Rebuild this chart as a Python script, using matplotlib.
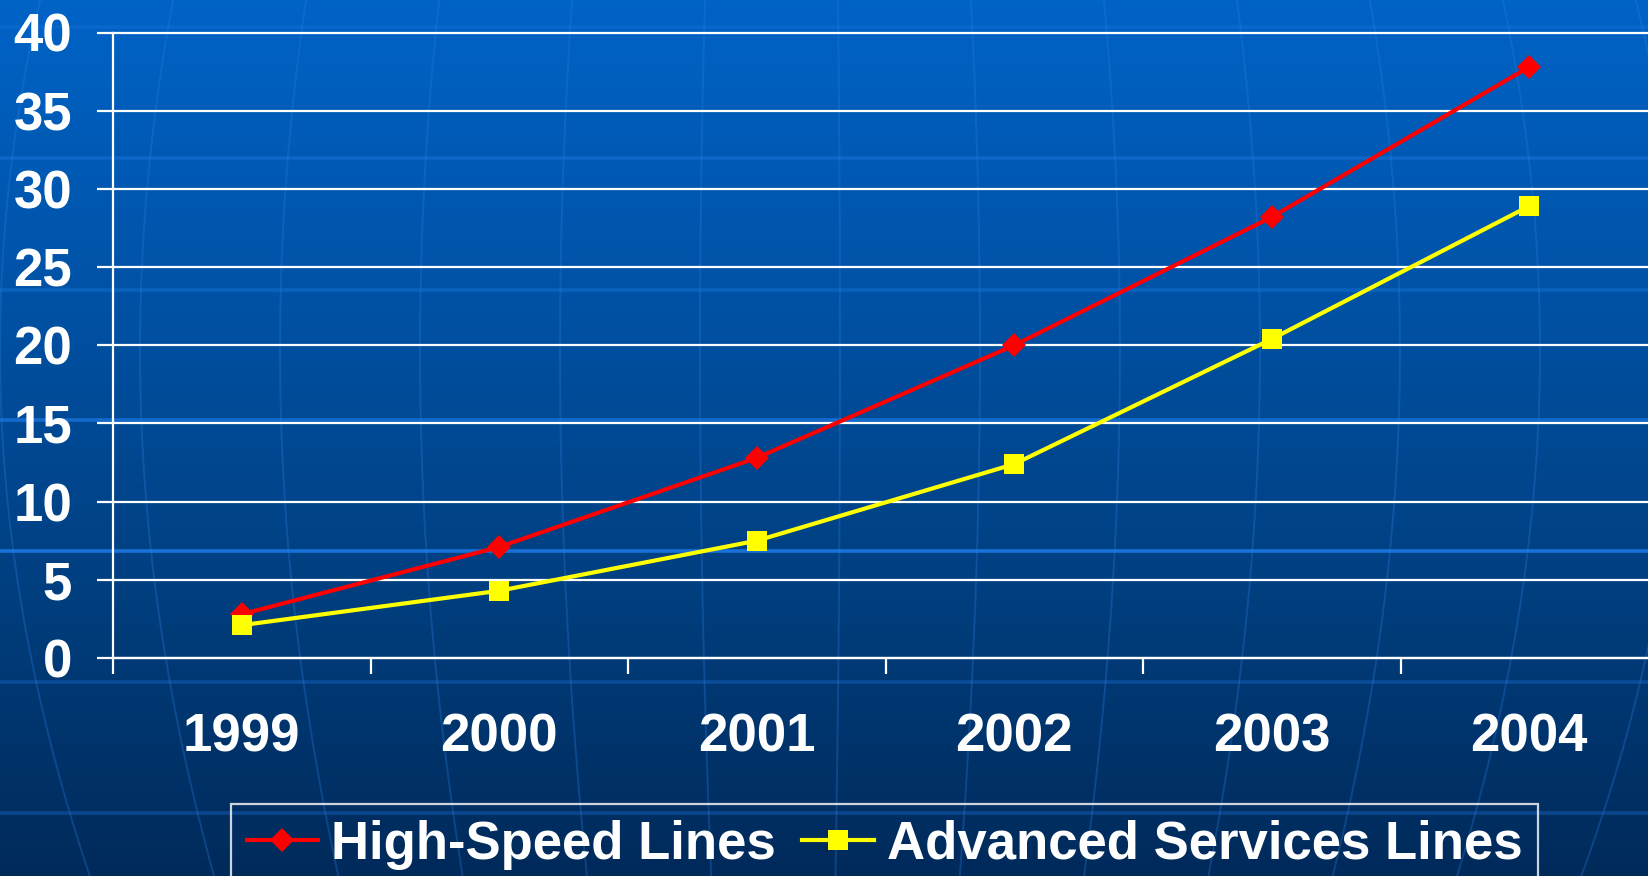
import matplotlib
matplotlib.use("Agg")
import matplotlib.pyplot as plt
from matplotlib.colors import LinearSegmentedColormap
import numpy as np

plt.rcParams["font.family"] = ["Liberation Sans", "DejaVu Sans"]
plt.rcParams["font.weight"] = "bold"

# ---- data (millions of lines, year end)
YEARS = ["1999", "2000", "2001", "2002", "2003", "2004"]
HIGH_SPEED = [2.8, 7.1, 12.8, 20.0, 28.2, 37.8]
ADVANCED = [2.1, 4.3, 7.5, 12.4, 20.4, 28.9]

W, H = 1648, 876
FS = 38

fig = plt.figure(figsize=(W / 100, H / 100), dpi=100)

# ---- slide background: blue gradient with faint globe lines
bg = fig.add_axes([0, 0, 1, 1], zorder=0)
grad = np.linspace(0, 1, 256)[:, None]
cmap = LinearSegmentedColormap.from_list(
    "slide", ["#0063c6", "#0052a6", "#003f80", "#002a5a"])
bg.imshow(grad, aspect="auto", cmap=cmap, extent=(0, W, H, 0))
for y, a in [(27, 0.35), (158, 0.5), (290, 0.45), (420, 0.8),
             (551, 0.95), (682, 0.35), (813, 0.35)]:
    bg.plot([0, W], [y, y], color="#1a74dc", lw=2.6, alpha=a)
yy = np.linspace(0, H, 200)
for x0 in np.arange(0, 1700, 140):
    bg.plot(800 + (x0 - 800) * np.cos((yy - 350) / 1100), yy,
            color="#2a7ee0", lw=1.4, alpha=0.3)
bg.set_xlim(0, W)
bg.set_ylim(H, 0)
bg.axis("off")

# ---- chart
ax = fig.add_axes([113 / W, 1 - 658 / H, 1545 / W, 625.5 / H], zorder=1)
ax.patch.set_alpha(0)
x = np.arange(len(YEARS))
ax.plot(x, HIGH_SPEED, color="#ff0000", lw=3, marker="D", ms=12, mew=0,
        label="High-Speed Lines", zorder=3, clip_on=False)
ax.plot(x, ADVANCED, color="#ffff00", lw=3, marker="s", ms=15, mew=0,
        label="Advanced Services Lines", zorder=4, clip_on=False)

ax.set_xlim(-0.5, 5.5)
ax.set_ylim(0, 40)
ax.set_yticks(np.arange(0, 41, 5))
ax.set_xticks(x)
ax.set_xticklabels(YEARS)
ax.set_xticks(np.arange(-0.5, 6, 1), minor=True)

ax.grid(axis="y", color="white", lw=1.6)
for gl in ax.get_ygridlines():
    gl.set_clip_on(False)
ax.set_axisbelow(True)

for s in ["top", "right"]:
    ax.spines[s].set_visible(False)
for s in ["left", "bottom"]:
    ax.spines[s].set_color("white")
    ax.spines[s].set_linewidth(1.6)

ax.tick_params(axis="y", colors="white", length=11.5, width=1.6,
               pad=18, labelsize=FS)
ax.tick_params(axis="x", which="major", length=0, pad=39,
               colors="white", labelsize=FS)
ax.tick_params(axis="x", which="minor", length=11.5, width=1.6,
               color="white")
for lab in ax.get_xticklabels() + ax.get_yticklabels():
    lab.set_fontweight("bold")

leg = fig.legend(loc="upper left", bbox_to_anchor=(231 / W, 1 - 804 / H),
                 ncol=2, fontsize=FS, frameon=True, fancybox=False,
                 borderpad=0.3, borderaxespad=0, handlelength=1.35,
                 handletextpad=0.25, columnspacing=0.5)
leg.get_frame().set_facecolor("none")
leg.get_frame().set_edgecolor("white")
leg.get_frame().set_linewidth(1.6)
for t in leg.get_texts():
    t.set_color("white")
    t.set_fontweight("bold")

fig.savefig("out.png", dpi=100)
